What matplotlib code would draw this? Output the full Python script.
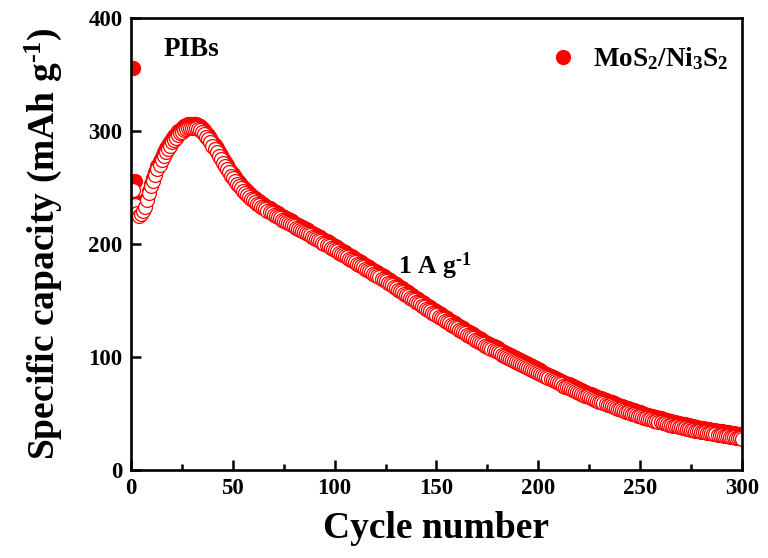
import matplotlib
matplotlib.use('Agg')
import matplotlib.pyplot as plt
import numpy as np

plt.rcParams['font.family'] = ['Liberation Serif', 'DejaVu Serif']
plt.rcParams['font.weight'] = 'bold'
plt.rcParams['mathtext.fontset'] = 'custom'
plt.rcParams['mathtext.rm'] = 'Liberation Serif:bold'
plt.rcParams['mathtext.it'] = 'Liberation Serif:bold'
plt.rcParams['mathtext.bf'] = 'Liberation Serif:bold'
plt.rcParams['mathtext.default'] = 'rm'

# charge capacity (open circles), cycles 1..300
charge = [
    248, 234, 227, 225, 226, 229, 233, 239, 245, 251,
    256, 261, 266, 270, 274, 278, 281, 284, 287, 290,
    292, 294, 296, 298, 299, 300.5, 301.5, 302.3, 302.8, 303,
    303, 302.7, 302, 300.8, 299.2, 297.2, 295, 292.5, 289.8, 287,
    284, 281, 278, 275, 272, 269, 266, 263.2, 260.5, 258,
    255.6, 253.3, 251.1, 249, 247, 245.1, 243.3, 241.6, 240, 238.5,
    237, 235.6, 234.2, 232.9, 231.6, 230.4, 229.2, 228, 226.9, 225.8,
    224.7, 223.6, 222.5, 221.4, 220.4, 219.4, 218.4, 217.4, 216.4, 215.4,
    214.4, 213.4, 212.4, 211.4, 210.4, 209.4, 208.4, 207.4, 206.4, 205.4,
    204.4, 203.3, 202.2, 201.1, 200, 198.9, 197.8, 196.7, 195.6, 194.5,
    193.4, 192.3, 191.2, 190.1, 189, 187.9, 186.8, 185.7, 184.6, 183.5,
    182.4, 181.3, 180.2, 179.1, 178, 176.9, 175.8, 174.7, 173.6, 172.5,
    171.4, 170.3, 169.1, 167.9, 166.7, 165.5, 164.3, 163.1, 161.9, 160.7,
    159.5, 158.3, 157.1, 155.9, 154.7, 153.5, 152.3, 151.1, 149.9, 148.7,
    147.5, 146.3, 145.1, 143.9, 142.7, 141.5, 140.3, 139.1, 137.9, 136.7,
    135.5, 134.3, 133.1, 131.9, 130.7, 129.5, 128.4, 127.3, 126.2, 125.1,
    124, 122.9, 121.8, 120.7, 119.6, 118.5, 117.4, 116.3, 115.2, 114.1,
    113, 111.9, 110.9, 109.9, 108.9, 107.9, 106.9, 105.9, 104.9, 103.9,
    102.9, 101.9, 100.9, 99.9, 98.9, 97.9, 97, 96.1, 95.2, 94.3,
    93.4, 92.5, 91.6, 90.7, 89.8, 88.9, 88, 87.1, 86.2, 85.3,
    84.4, 83.5, 82.6, 81.7, 80.8, 79.9, 79, 78.1, 77.2, 76.3,
    75.4, 74.5, 73.6, 72.8, 72, 71.2, 70.4, 69.6, 68.8, 68,
    67.2, 66.4, 65.6, 64.8, 64, 63.2, 62.4, 61.7, 61, 60.3,
    59.6, 58.9, 58.2, 57.5, 56.8, 56.1, 55.4, 54.7, 54, 53.3,
    52.6, 52, 51.4, 50.8, 50.2, 49.6, 49, 48.4, 47.8, 47.2,
    46.6, 46, 45.4, 44.9, 44.4, 43.9, 43.4, 42.9, 42.4, 41.9,
    41.4, 40.9, 40.4, 39.9, 39.4, 39, 38.6, 38.2, 37.8, 37.4,
    37, 36.6, 36.2, 35.8, 35.4, 35, 34.6, 34.2, 33.8, 33.5,
    33.2, 32.9, 32.6, 32.3, 32, 31.7, 31.4, 31.1, 30.8, 30.5,
    30.2, 29.9, 29.6, 29.3, 29, 28.7, 28.4, 28.1, 27.8, 27.5,
]

# discharge capacity (filled circles), cycles 1..300
discharge = [
    356, 256, 237, 230, 229, 231, 235, 241, 247, 253,
    258.5, 263.5, 268.5, 273, 277, 281, 284.5, 287.5, 290.5, 293,
    295.5, 297.5, 299.5, 301.2, 302.7, 304, 305, 305.8, 306.3, 306.5,
    306.5, 306.2, 305.5, 304.3, 302.7, 300.7, 298.5, 296, 293.3, 290.5,
    287.5, 284.5, 281.5, 278.5, 275.5, 272.5, 269.5, 266.7, 264, 261.4,
    259, 256.7, 254.5, 252.4, 250.4, 248.5, 246.7, 245, 243.4, 241.9,
    240.4, 239, 237.6, 236.3, 235, 233.8, 232.6, 231.4, 230.3, 229.2,
    228.1, 227, 225.9, 224.8, 223.8, 222.8, 221.8, 220.8, 219.8, 218.8,
    217.8, 216.8, 215.8, 214.8, 213.8, 212.8, 211.8, 210.8, 209.8, 208.8,
    207.8, 206.7, 205.6, 204.5, 203.4, 202.3, 201.2, 200.1, 199, 197.9,
    196.8, 195.7, 194.6, 193.5, 192.4, 191.3, 190.2, 189.1, 188, 186.9,
    185.8, 184.7, 183.6, 182.5, 181.4, 180.3, 179.2, 178.1, 177, 175.9,
    174.8, 173.7, 172.5, 171.3, 170.1, 168.9, 167.7, 166.5, 165.3, 164.1,
    162.9, 161.7, 160.5, 159.3, 158.1, 156.9, 155.7, 154.5, 153.3, 152.1,
    150.9, 149.7, 148.5, 147.3, 146.1, 144.9, 143.7, 142.5, 141.3, 140.1,
    138.9, 137.7, 136.5, 135.3, 134.1, 132.9, 131.8, 130.7, 129.6, 128.5,
    127.4, 126.3, 125.2, 124.1, 123, 121.9, 120.8, 119.7, 118.6, 117.5,
    116.4, 115.3, 114.3, 113.3, 112.3, 111.3, 110.3, 109.3, 108.3, 107.3,
    106.3, 105.3, 104.3, 103.3, 102.3, 101.3, 100.4, 99.5, 98.6, 97.7,
    96.8, 95.9, 95, 94.1, 93.2, 92.3, 91.4, 90.5, 89.6, 88.7,
    87.8, 86.9, 86, 85.1, 84.2, 83.3, 82.4, 81.5, 80.6, 79.7,
    78.8, 77.9, 77, 76.2, 75.4, 74.6, 73.8, 73, 72.2, 71.4,
    70.6, 69.8, 69, 68.2, 67.4, 66.6, 65.8, 65.1, 64.4, 63.7,
    63, 62.3, 61.6, 60.9, 60.2, 59.5, 58.8, 58.1, 57.4, 56.7,
    56, 55.4, 54.8, 54.2, 53.6, 53, 52.4, 51.8, 51.2, 50.6,
    50, 49.4, 48.8, 48.3, 47.8, 47.3, 46.8, 46.3, 45.8, 45.3,
    44.8, 44.3, 43.8, 43.3, 42.8, 42.4, 42, 41.6, 41.2, 40.8,
    40.4, 40, 39.6, 39.2, 38.8, 38.4, 38, 37.6, 37.2, 36.9,
    36.6, 36.3, 36, 35.7, 35.4, 35.1, 34.8, 34.5, 34.2, 33.9,
    33.6, 33.3, 33, 32.7, 32.4, 32.1, 31.8, 31.5, 31.2, 30.9,
]

cycles = np.arange(1, len(charge) + 1)

fig = plt.figure(figsize=(7.68, 5.58), dpi=100)
ax = fig.add_axes([0.1706, 0.1584, 0.7955, 0.8093])

ax.plot(cycles, discharge, 'o', color='red', markersize=11, markeredgewidth=0,
        label='MoS$_2$/Ni$_3$S$_2$')
ax.plot(cycles, charge, 'o', markerfacecolor='white', markeredgecolor='red',
        markersize=10, markeredgewidth=0.9)

ax.set_xlim(0, 300)
ax.set_ylim(0, 400)
ax.set_xticks(np.arange(0, 301, 50))
ax.set_xticks(np.arange(25, 300, 50), minor=True)
ax.set_yticks(np.arange(0, 401, 100))
ax.tick_params(axis='both', which='both', direction='in', top=False, right=False)
ax.tick_params(axis='both', which='major', length=7, width=1.8, labelsize=16.5, pad=6)
ax.tick_params(axis='x', which='minor', length=4, width=1.8)
for s in ax.spines.values():
    s.set_linewidth(1.9)

ax.set_xlabel('Cycle number', fontsize=27, fontweight='bold', labelpad=9)
ax.set_ylabel(r'Specific capacity (mAh g$^{\text{-1}}$)', fontsize=27, fontweight='bold')
ax.yaxis.set_label_coords(-0.11, 0.5)

ax.text(16, 372, 'PIBs', fontsize=19.5, fontweight='bold', va='center')
ax.text(131, 180, r'1 A g$^{\text{-1}}$', fontsize=18.5, fontweight='bold', va='center')

ax.legend(loc='upper right', bbox_to_anchor=(1.0, 0.969), frameon=False,
          fontsize=19.5, handletextpad=0.5, markerscale=1.0,
          borderaxespad=0.1, handlelength=1.2)

fig.savefig('out.png', dpi=100)
